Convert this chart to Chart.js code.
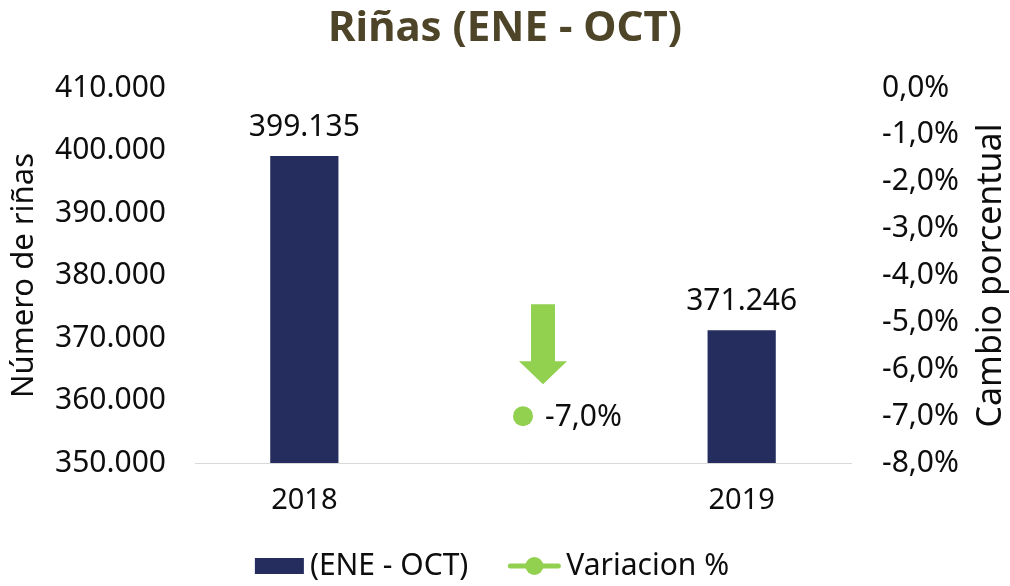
<!DOCTYPE html>
<html>
<head>
<meta charset="utf-8">
<script src="https://cdn.jsdelivr.net/npm/chart.js@4.4.1/dist/chart.umd.min.js"></script>
<style>
  html, body { margin: 0; padding: 0; background: #ffffff; }
  #wrap { width: 1010px; height: 586px; }
</style>
</head>
<body>
<div id="wrap"><canvas id="rinasChart" width="1010" height="586"></canvas></div>
<script>
// data
const years = ["2018", "", "2019"];
const totals = [399135, null, 371246];
const variation = [null, -0.07, null];

// axis ranges
const countMin = 350000, countMax = 410000, countStep = 10000;
const pctMin = -0.08, pctMax = 0, pctStep = 0.01;

const NAVY = "#242d5e";
const GREEN = "#92d050";
const OLIVE = "#4e4529";
const TEXT = "#0d0d0d";
const FONT = "'Noto Sans', 'Open Sans', sans-serif";

Chart.defaults.font.family = FONT;
Chart.defaults.color = TEXT;

function thousands(n) {
    return Math.round(n).toString().replace(/\B(?=(\d{3})+(?!\d))/g, ".");
}

function percent(v) {
    let s = (v * 100).toFixed(1);
    if (s === "-0.0") s = "0.0";
    return s.replace(".", ",") + "%";
}

// value labels, arrow, right axis title and legend
const extrasPlugin = {
    id: "extras",
    afterDatasetsDraw(chart) {
        const ctx = chart.ctx;
        ctx.save();
        ctx.fillStyle = TEXT;
        ctx.font = "30px " + FONT;

        // bar labels
        const barMeta = chart.getDatasetMeta(0);
        ctx.textAlign = "center";
        ctx.textBaseline = "alphabetic";
        barMeta.data.forEach((bar, i) => {
            if (totals[i] == null) return;
            ctx.fillText(thousands(totals[i]), bar.x, bar.y - 20);
        });

        // point label + arrow
        const lineMeta = chart.getDatasetMeta(1);
        lineMeta.data.forEach((pt, i) => {
            if (variation[i] == null) return;
            ctx.textAlign = "left";
            ctx.textBaseline = "middle";
            ctx.fillStyle = TEXT;
            ctx.fillText(percent(variation[i]), pt.x + 22, pt.y + 1);

            const cx = pt.x + 20;
            const tip = pt.y - 32;
            ctx.fillStyle = GREEN;
            ctx.beginPath();
            ctx.moveTo(cx - 12, pt.y - 112);
            ctx.lineTo(cx + 12, pt.y - 112);
            ctx.lineTo(cx + 12, pt.y - 55);
            ctx.lineTo(cx + 24, pt.y - 55);
            ctx.lineTo(cx, tip);
            ctx.lineTo(cx - 24, pt.y - 55);
            ctx.lineTo(cx - 12, pt.y - 55);
            ctx.closePath();
            ctx.fill();
        });
        ctx.restore();
    },
    afterDraw(chart) {
        const ctx = chart.ctx;
        const area = chart.chartArea;
        const right = chart.scales.y1;
        ctx.save();

        // right axis title, reading bottom to top
        ctx.fillStyle = TEXT;
        ctx.font = "34px " + FONT;
        ctx.textAlign = "center";
        ctx.textBaseline = "middle";
        ctx.translate(right.right - 19, (area.top + area.bottom) / 2);
        ctx.rotate(-Math.PI / 2);
        ctx.fillText("Cambio porcentual", 0, 0);
        ctx.setTransform(1, 0, 0, 1, 0, 0);

        // legend
        const items = [
            { text: chart.data.datasets[0].label, kind: "box" },
            { text: chart.data.datasets[1].label, kind: "line" }
        ];
        ctx.font = "30px " + FONT;
        const markW = [49, 52];
        const gap = 6, spacing = 40;
        let total = 0;
        items.forEach((it, i) => {
            it.w = ctx.measureText(it.text).width;
            total += markW[i] + gap + it.w;
        });
        total += spacing;
        let x = 492 - total / 2;
        const y = 566;
        items.forEach((it, i) => {
            if (it.kind === "box") {
                ctx.fillStyle = NAVY;
                ctx.fillRect(x, y - 8, 49, 16);
            } else {
                ctx.strokeStyle = GREEN;
                ctx.lineWidth = 5;
                ctx.lineCap = "round";
                ctx.beginPath();
                ctx.moveTo(x + 2, y);
                ctx.lineTo(x + 50, y);
                ctx.stroke();
                ctx.fillStyle = GREEN;
                ctx.beginPath();
                ctx.arc(x + 26, y, 9, 0, Math.PI * 2);
                ctx.fill();
            }
            x += markW[i] + gap;
            ctx.fillStyle = TEXT;
            ctx.textAlign = "left";
            ctx.textBaseline = "middle";
            ctx.fillText(it.text, x, y);
            x += it.w + spacing;
        });
        ctx.restore();
    }
};

const ctxRinas = document.getElementById("rinasChart").getContext("2d");

const rinasChart = new Chart(ctxRinas, {
    type: "bar",
    data: {
        labels: years,
        datasets: [{
            type: "bar",
            label: "(ENE - OCT)",
            data: totals,
            backgroundColor: NAVY,
            yAxisID: "y",
            categoryPercentage: 1,
            barPercentage: 0.312,
            order: 2,
        }, {
            type: "line",
            label: "Variacion %",
            data: variation,
            yAxisID: "y1",
            borderColor: GREEN,
            backgroundColor: GREEN,
            pointRadius: 10,
            pointHoverRadius: 10,
            pointBorderWidth: 0,
            showLine: false,
            order: 1,
        }],
    },
    options: {
        responsive: false,
        animation: false,
        devicePixelRatio: 1,
        layout: {
            padding: { left: 0, right: 0, top: 0, bottom: 48 },
        },
        plugins: {
            legend: { display: false },
            tooltip: { enabled: false },
            title: {
                display: true,
                text: "Riñas (ENE - OCT)",
                color: OLIVE,
                font: { size: 42, weight: "bold" },
                padding: { top: 3.8, bottom: 33.8 },
            },
        },
        scales: {
            x: {
                grid: { display: false, drawTicks: false },
                border: { display: true, color: "#d9d9d9", width: 1 },
                ticks: { font: { size: 29 }, padding: 20, color: TEXT },
                afterFit: function(scale) {
                    scale.height = 75;
                },
            },
            y: {
                position: "left",
                min: countMin,
                max: countMax,
                grid: { display: false, drawTicks: false },
                border: { display: false },
                ticks: {
                    stepSize: countStep,
                    padding: 29,
                    font: { size: 30 },
                    color: TEXT,
                    callback: function(value) {
                        return thousands(value);
                    },
                },
                title: {
                    display: true,
                    text: "Número de riñas",
                    font: { size: 31 },
                    color: TEXT,
                    padding: { top: 6, bottom: 0 },
                },
                afterFit: function(scale) {
                    scale.width = 195;
                },
            },
            y1: {
                position: "right",
                min: pctMin,
                max: pctMax,
                grid: { display: false, drawTicks: false },
                border: { display: false },
                ticks: {
                    stepSize: pctStep,
                    padding: 31,
                    font: { size: 30 },
                    color: TEXT,
                    callback: function(value) {
                        return percent(value);
                    },
                },
                afterFit: function(scale) {
                    scale.width = 159;
                },
            },
        },
    },
    plugins: [extrasPlugin],
});
</script>
</body>
</html>
